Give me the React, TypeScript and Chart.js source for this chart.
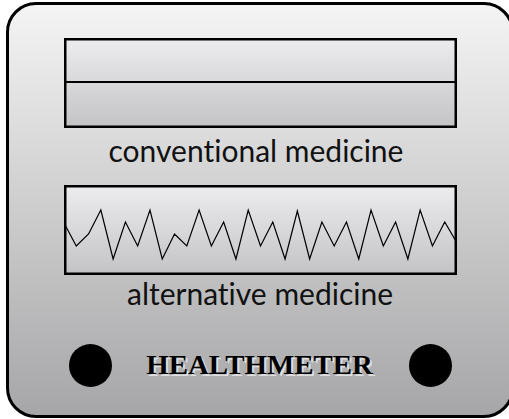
import React, { useEffect, useRef } from 'react';
import { Chart, registerables } from 'chart.js';

Chart.register(...registerables);

// ---- data ----
const sampleLabels = ['1', '2', '3', '4', '5', '6', '7', '8', '9', '10', '11', '12', '13', '14', '15', '16', '17', '18', '19', '20', '21', '22', '23', '24', '25', '26', '27', '28', '29', '30', '31', '32', '33'];
const conventionalValues = [46, 46, 46, 46, 46, 46, 46, 46, 46, 46, 46, 46, 46, 46, 46, 46, 46, 46, 46, 46, 46, 46, 46, 46, 46, 46, 46, 46, 46, 46, 46, 46, 46];
const alternativeValues = [52, 29, 41, 65, 16, 53, 29, 65, 16, 41, 29, 65, 29, 53, 16, 65, 29, 53, 16, 64, 16, 53, 29, 53, 16, 65, 29, 53, 16, 65, 29, 53, 32];
const screenTitles = ['conventional medicine', 'alternative medicine'];
const deviceName = 'HEALTHMETER';
const scaleMin = 0;
const scaleMax = 90;

type ScreenProps = { values: number[]; lineWidth: number; left: number; top: number; width: number; height: number };

function Screen({ values, lineWidth, left, top, width, height }: ScreenProps) {
  const ref = useRef<HTMLCanvasElement>(null);
  useEffect(() => {
    if (!ref.current) return;
    const screenPlugin = {
      id: 'screenFrame',
      beforeDraw(chart: any) {
        const { ctx, width: w, height: h } = chart;
        const g = ctx.createLinearGradient(0, 0, 0, h);
        g.addColorStop(0, '#ededef');
        g.addColorStop(1, '#c3c3c5');
        ctx.save();
        ctx.fillStyle = g;
        ctx.fillRect(0, 0, w, h);
        ctx.restore();
      },
      afterDraw(chart: any) {
        const { ctx, width: w, height: h } = chart;
        ctx.save();
        ctx.strokeStyle = '#000';
        ctx.lineWidth = 2.5;
        ctx.strokeRect(1.25, 1.25, w - 2.5, h - 2.5);
        ctx.restore();
      },
    };
    const chart = new Chart(ref.current, {
      type: 'line',
      data: {
        labels: sampleLabels,
        datasets: [
          {
            data: values,
            borderColor: '#000',
            borderWidth: lineWidth,
            pointRadius: 0,
            tension: 0,
            fill: false,
          },
        ],
      },
      options: {
        animation: false,
        responsive: false,
        devicePixelRatio: 1,
        events: [],
        layout: { padding: 0 },
        plugins: { legend: { display: false }, tooltip: { enabled: false }, title: { display: false } },
        scales: {
          x: { display: false, offset: false },
          y: { display: false, min: scaleMin, max: scaleMax },
        },
      },
      plugins: [screenPlugin],
    });
    return () => chart.destroy();
  }, [values, lineWidth]);
  return (
    <canvas
      ref={ref}
      width={width}
      height={height}
      style={{ position: 'absolute', left, top, width, height, display: 'block' }}
    />
  );
}

const captionStyle: React.CSSProperties = {
  position: 'absolute',
  left: 0,
  textAlign: 'center',
  fontFamily: 'Lato, sans-serif',
  fontSize: 30,
  lineHeight: '30px',
  color: '#111',
  whiteSpace: 'nowrap',
  fontVariantLigatures: 'none',
  fontFeatureSettings: '"liga" 0, "clig" 0',
};

export default function App() {
  return (
    <div style={{ position: 'absolute', left: 0, top: 0, width: 509, height: 419, overflow: 'hidden', background: '#fff' }}>
      <div
        style={{
          position: 'absolute',
          left: 6,
          top: 2,
          width: 508,
          height: 416,
          boxSizing: 'border-box',
          border: '3px solid #000',
          borderRadius: 30,
          background: 'linear-gradient(to bottom, #f4f4f4 0%, #a6a6a8 100%)',
        }}
      />
      <Screen values={conventionalValues} lineWidth={2} left={64} top={38} width={393} height={90} />
      <Screen values={alternativeValues} lineWidth={1.2} left={64} top={185} width={393} height={90} />
      <div style={{ ...captionStyle, top: 135.4, width: 512 }}>{screenTitles[0]}</div>
      <div style={{ ...captionStyle, top: 278.4, width: 520 }}>{screenTitles[1]}</div>
      <div
        style={{
          position: 'absolute', left: 0, top: 350.5, width: 519, textAlign: 'center',
          fontFamily: '"Liberation Serif", "Times New Roman", serif', fontWeight: 'bold', fontSize: 28, lineHeight: '28px',
          color: '#000', whiteSpace: 'nowrap', transform: 'scaleX(1.03)',
          textShadow: '2px 2px 0 rgba(255,255,255,0.6)',
        }}
      >
        {deviceName}
      </div>
      <div style={{ position: 'absolute', left: 69, top: 343.5, width: 43, height: 43, borderRadius: '50%', background: '#000' }} />
      <div style={{ position: 'absolute', left: 408.5, top: 343.5, width: 43, height: 43, borderRadius: '50%', background: '#000' }} />
    </div>
  );
}
